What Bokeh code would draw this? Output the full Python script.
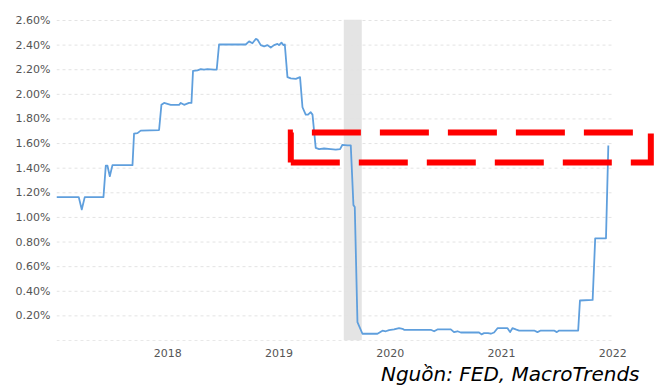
from bokeh.plotting import figure
from bokeh.models import Range1d, FixedTicker, Title, BoxAnnotation, ColumnDataSource
from bokeh.embed import file_html
from bokeh.resources import INLINE

# ---- data (decimal year on the chart's axis, rate in %) ----
years = [2017.000, 2017.200, 2017.227, 2017.254, 2017.422, 2017.443, 2017.458, 2017.479, 2017.503, 2017.683,
         2017.697, 2017.728, 2017.757, 2017.922, 2017.943, 2017.967, 2018.027, 2018.102, 2018.117, 2018.147,
         2018.191, 2018.213, 2018.227, 2018.267, 2018.297, 2018.326, 2018.357, 2018.416, 2018.440, 2018.461,
         2018.701, 2018.731, 2018.761, 2018.791, 2018.806, 2018.836, 2018.866, 2018.896, 2018.926, 2018.956,
         2018.986, 2019.000, 2019.022, 2019.040, 2019.052, 2019.076, 2019.106, 2019.151, 2019.189, 2019.211,
         2019.240, 2019.261, 2019.285, 2019.301, 2019.330, 2019.360, 2019.405, 2019.465, 2019.510, 2019.549,
         2019.570, 2019.615, 2019.645, 2019.669, 2019.681, 2019.705, 2019.750, 2019.885, 2019.930, 2019.960,
         2019.989, 2020.034, 2020.079, 2020.110, 2020.124, 2020.364, 2020.394, 2020.424, 2020.544, 2020.573,
         2020.604, 2020.634, 2020.798, 2020.820, 2020.843, 2020.879, 2020.904, 2020.933, 2020.964, 2021.054,
         2021.077, 2021.098, 2021.128, 2021.158, 2021.293, 2021.323, 2021.353, 2021.472, 2021.497, 2021.518,
         2021.689, 2021.705, 2021.819, 2021.842, 2021.939, 2021.960]
rates = [1.165, 1.165, 1.065, 1.165, 1.165, 1.420, 1.420, 1.335, 1.425, 1.425,
         1.680, 1.685, 1.705, 1.710, 1.915, 1.930, 1.915, 1.915, 1.930, 1.915,
         1.930, 1.930, 2.190, 2.195, 2.205, 2.200, 2.205, 2.200, 2.200, 2.405,
         2.405, 2.430, 2.415, 2.450, 2.445, 2.400, 2.390, 2.400, 2.380, 2.400,
         2.410, 2.400, 2.420, 2.400, 2.405, 2.140, 2.130, 2.125, 2.140, 1.895,
         1.835, 1.835, 1.855, 1.835, 1.565, 1.555, 1.560, 1.555, 1.550, 1.555,
         1.590, 1.585, 1.585, 1.100, 1.085, 0.150, 0.055, 0.055, 0.080, 0.075,
         0.085, 0.090, 0.100, 0.095, 0.087, 0.087, 0.075, 0.090, 0.090, 0.068,
         0.075, 0.065, 0.065, 0.050, 0.060, 0.060, 0.055, 0.065, 0.100, 0.100,
         0.068, 0.100, 0.090, 0.081, 0.081, 0.068, 0.081, 0.081, 0.068, 0.081,
         0.081, 0.325, 0.330, 0.830, 0.830, 1.585]

x_ticks = [2018, 2019, 2020, 2021, 2022]
y_ticks = [0.2, 0.4, 0.6, 0.8, 1.0, 1.2, 1.4, 1.6, 1.8, 2.0, 2.2, 2.4, 2.6]
grid_levels = [0.0] + y_ticks
grid_span = [2017.0, 2022.0]

recession = [2019.582, 2019.744]          # shaded band (left, right)
box_x = [2019.106, 2022.342]              # red dashed highlight box
box_y = [1.446, 1.690]
source_note = "Nguồn: FED, MacroTrends"

# ---- figure ----
p = figure(width=659, height=386, output_backend="svg", toolbar_location=None,
           x_range=Range1d(2017.0, 2022.393), y_range=Range1d(0.0, 2.608),
           min_border_left=56, min_border_right=3, min_border_top=19, min_border_bottom=46)
p.outline_line_color = None
p.xgrid.visible = False
p.ygrid.visible = False
p.background_fill_color = "white"

# recession band
p.add_layout(BoxAnnotation(left=recession[0], right=recession[1], fill_color="#e4e4e4",
                           fill_alpha=1.0, line_color=None, level="underlay"))

# dashed horizontal grid lines
gsrc = ColumnDataSource(dict(x0=[grid_span[0]] * len(grid_levels), x1=[grid_span[1]] * len(grid_levels),
                             y=grid_levels,
                             c=["#d2d2d2"] + ["#e3e3e3"] * len(y_ticks)))
p.segment(x0="x0", y0="y", x1="x1", y1="y", source=gsrc, line_color="c",
          line_width=1, line_dash="3 3")

# main series
p.line(years, rates, line_color="#5f9fdd", line_width=1.8, line_join="round")

# red dashed box (closed path: bottom-left -> bottom-right -> top-right -> top-left -> back)
bx = [box_x[0], box_x[1], box_x[1], box_x[0], box_x[0]]
by = [box_y[0], box_y[0], box_y[1], box_y[1], box_y[0]]
p.line(bx, by, line_color="#ff0000", line_width=6, line_dash="49 19", line_join="miter", line_cap="butt")

# axes
for ax in (p.xaxis[0], p.yaxis[0]):
    ax.axis_line_color = None
    ax.major_tick_line_color = None
    ax.minor_tick_line_color = None
    ax.major_tick_out = 0
    ax.major_tick_in = 0
    ax.minor_tick_out = 0
    ax.minor_tick_in = 0
    ax.major_label_text_font = "DejaVu Sans"
    ax.major_label_text_font_size = "11px"
    ax.major_label_text_color = "#555555"

p.xaxis.ticker = FixedTicker(ticks=x_ticks)
p.xaxis.major_label_overrides = {t: str(t) for t in x_ticks}
p.xaxis.major_label_standoff = 8
p.yaxis.ticker = FixedTicker(ticks=y_ticks)
p.yaxis.major_label_overrides = {t: "%.2f%%" % t for t in y_ticks}
p.yaxis.major_label_standoff = 6

note = Title(text=source_note, align="right", offset=17, standoff=0,
             text_font="DejaVu Sans", text_font_style="italic", text_font_size="20px",
             text_color="#000000", text_line_height=1.0)
p.add_layout(note, "below")

open("out.html", "w").write(file_html(p, INLINE))
